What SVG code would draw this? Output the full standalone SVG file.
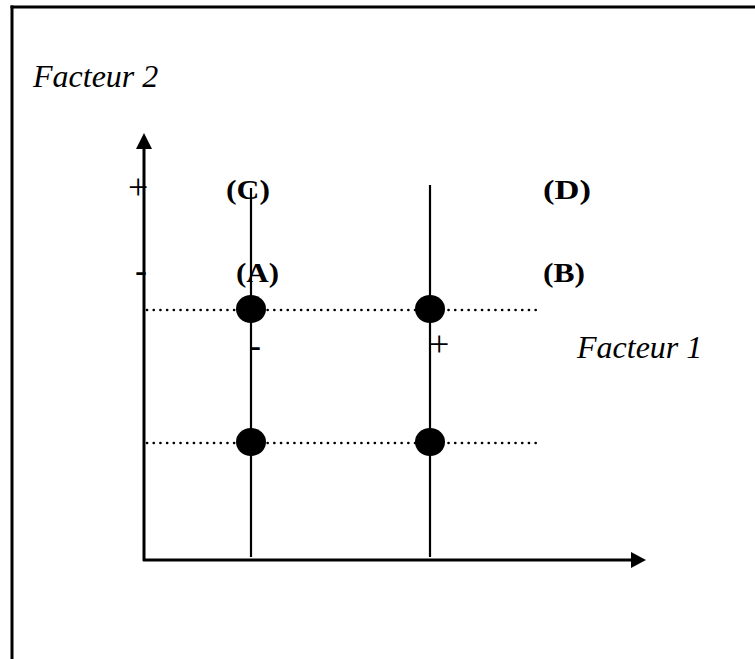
<svg xmlns="http://www.w3.org/2000/svg" width="755" height="659" viewBox="0 0 755 659">
<style>
.ital{font-family:"Liberation Serif","Times New Roman",serif;font-style:italic;font-size:32px;fill:#000}
.bold{font-family:"Liberation Serif","Times New Roman",serif;font-weight:bold;font-size:28px;fill:#000}
.sign{font-family:"Liberation Serif","Times New Roman",serif;font-size:36px;fill:#000}
.dot{stroke:#000;stroke-width:2.6;stroke-linecap:round;stroke-dasharray:0.1 6.6;fill:none}
.vline{stroke:#000;stroke-width:2.2;fill:none}
.axis{stroke:#000;stroke-width:3;fill:none}
</style>
<rect width="755" height="659" fill="#fff"/>
<g id="frame">
<line x1="10.5" y1="7" x2="755" y2="7" stroke="#000" stroke-width="3"/>
<line x1="12" y1="5.5" x2="12" y2="659" stroke="#000" stroke-width="3"/>
</g>
<g id="connectors">
<line class="axis" x1="144" y1="561" x2="144" y2="146"/>
<polygon points="144,133 136,149 152,149" fill="#000"/>
<line class="axis" x1="143" y1="560" x2="634" y2="560"/>
<polygon points="646,560 631,552 631,568" fill="#000"/>
<line class="vline" x1="251" y1="188" x2="251" y2="557"/>
<line class="vline" x1="430" y1="185" x2="430" y2="557"/>
<line class="dot" x1="147" y1="310" x2="537" y2="310"/>
<line class="dot" x1="147" y1="443" x2="537" y2="443"/>
</g>
<g id="labels">
<text class="ital" x="33" y="87">Facteur 2</text>
<text class="ital" x="577" y="358">Facteur 1</text>
<text class="bold" x="226" y="199" textLength="44" lengthAdjust="spacingAndGlyphs">(C)</text>
<text class="bold" x="236" y="282" textLength="43" lengthAdjust="spacingAndGlyphs">(A)</text>
<text class="bold" x="543" y="199" textLength="48" lengthAdjust="spacingAndGlyphs">(D)</text>
<text class="bold" x="543" y="282" textLength="42" lengthAdjust="spacingAndGlyphs">(B)</text>
<text class="sign" x="128" y="199">+</text>
<text class="sign" x="135" y="282">-</text>
<text class="sign" x="249" y="357">-</text>
<text class="sign" x="429" y="356">+</text>
</g>
<g id="node-A"><ellipse cx="251" cy="309" rx="15" ry="14" fill="#000"/></g>
<g id="node-B"><ellipse cx="430" cy="309" rx="15" ry="14" fill="#000"/></g>
<g id="node-C"><ellipse cx="251" cy="442" rx="15" ry="14" fill="#000"/></g>
<g id="node-D"><ellipse cx="430" cy="442" rx="15" ry="14" fill="#000"/></g>
</svg>
